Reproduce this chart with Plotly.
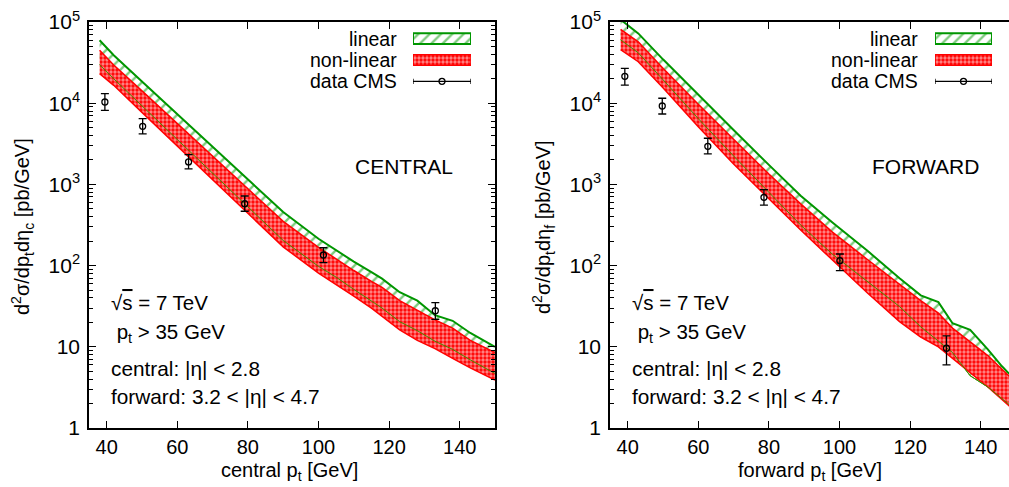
import plotly.graph_objects as go

W, H = 1009, 487
FONT = "Liberation Sans, Arial, sans-serif"
GREEN = "rgb(0,150,0)"
RED = "rgb(255,0,0)"

# ---- CENTRAL panel: theory bands (pb/GeV) ----
pt_c = [38, 42, 50, 60, 70, 80, 90, 100, 105, 110, 115, 118, 123, 128, 133, 138, 143, 150]
lin_hi_c = [59600, 38900, 18500, 7330, 2900, 1150, 457, 214, 153, 112, 83, 69, 47, 37, 24.5, 20.9, 14.8, 10.0]
lin_lo_c = [29800, 20000, 9290, 3570, 1370, 528, 204, 98, 72, 51, 37, 30, 20.4, 15.8, 11.7, 9.3, 6.9, 4.7]
nl_hi_c = [45000, 29500, 14200, 5600, 2200, 880, 350, 168, 120, 87, 64, 54, 37, 28.5, 21.5, 17.0, 12.0, 8.5]
nl_lo_c = [23100, 16600, 7710, 2960, 1135, 436, 170, 81, 59, 42, 30, 24, 16.2, 12.0, 9.5, 7.2, 5.5, 3.9]

# CMS data, central
cms_pt_c = [39.5, 50.2, 63.2, 79.1, 101.4, 133.1]
cms_c = [10350, 5190, 1890, 578, 135, 27.8]
cms_up_c = [2750, 1250, 430, 142, 31, 7.1]
cms_dn_c = [2170, 1010, 340, 111, 26, 6.0]

# ---- FORWARD panel ----
pt_f = [38, 43, 50, 60, 70, 80, 89, 98, 108, 117, 123, 128, 132, 137, 142, 146, 150]
lin_hi_f = [107000, 72400, 34700, 12600, 4680, 1740, 724, 339, 151, 70, 43, 35.5, 19.5, 16.2, 9.3, 5.75, 3.8]
lin_lo_f = [60300, 41700, 19500, 6460, 2240, 794, 316, 138, 63, 31.3, 17.6, 11.7, 8.5, 4.4, 3.2, 2.3, 1.66]
nl_hi_f = [81000, 57000, 27000, 9700, 3600, 1340, 575, 258, 118, 59, 37, 26.0, 17.0, 11.5, 7.8, 5.3, 3.6]
nl_lo_f = [45700, 32400, 15500, 5130, 1780, 661, 275, 117, 45.7, 20.4, 13.2, 10.0, 7.2, 4.9, 3.2, 2.24, 1.58]

cms_pt_f = [39.2, 49.8, 62.7, 78.6, 100.1, 130.3]
cms_f = [21400, 9240, 2940, 693, 115, 9.6]
cms_up_f = [5500, 2260, 760, 168, 24, 4.0]
cms_dn_f = [4700, 1880, 570, 136, 28.5, 3.6]

x_ticks = [40, 60, 80, 100, 120, 140]
y_ticks = [1, 10, 100, 1000, 10000, 100000]
y_ticktext = ["1", "10", "10<sup>2</sup>", "10<sup>3</sup>", "10<sup>4</sup>", "10<sup>5</sup>"]
y_minor = [m * 10 ** k for k in range(5) for m in range(2, 10)]

HATCH = dict(shape="/", fgcolor=GREEN, bgcolor="white", size=8, solidity=0.3)
CHECK = dict(shape=".", fgcolor="white", bgcolor=RED, size=4, solidity=0.55)


def px(x):
    return x / W


def py(y):
    return 1 - y / H


fig = go.Figure()


def add_panel(n, pt, lin_lo, lin_hi, nl_lo, nl_hi, cx, cy, cup, cdn):
    xa = "x" if n == 1 else "x%d" % n
    ya = "y" if n == 1 else "y%d" % n
    kw = dict(xaxis=xa, yaxis=ya, mode="lines", showlegend=False, hoverinfo="skip")
    fig.add_trace(go.Scatter(x=pt, y=lin_lo, line=dict(color=GREEN, width=1), **kw))
    fig.add_trace(go.Scatter(x=pt, y=lin_hi, fill="tonexty", fillpattern=HATCH,
                             line=dict(color=GREEN, width=2), **kw))
    fig.add_trace(go.Scatter(x=pt, y=nl_lo, line=dict(color=RED, width=1.5), **kw))
    fig.add_trace(go.Scatter(x=pt, y=nl_hi, fill="tonexty", fillpattern=CHECK,
                             line=dict(color=RED, width=1.5), **kw))
    fig.add_trace(go.Scatter(x=pt, y=lin_lo, line=dict(color="rgb(70,140,0)", width=1), **kw))
    fig.add_trace(go.Scatter(x=cx, y=cy, xaxis=xa, yaxis=ya, mode="markers", showlegend=False,
                             marker=dict(symbol="circle-open", size=6, color="black", line=dict(width=1.3)),
                             error_y=dict(type="data", array=cup, arrayminus=cdn, color="black",
                                          thickness=1.3, width=4)))


add_panel(1, pt_c, lin_lo_c, lin_hi_c, nl_lo_c, nl_hi_c, cms_pt_c, cms_c, cms_up_c, cms_dn_c)
add_panel(2, pt_f, lin_lo_f, lin_hi_f, nl_lo_f, nl_hi_f, cms_pt_f, cms_f, cms_up_f, cms_dn_f)

# legend swatches drawn on small hidden axes
def add_legend_swatch(n, x0, x1):
    xa, ya = "x%d" % n, "y%d" % n
    fig.update_layout({
        "xaxis%d" % n: dict(domain=[px(x0), px(x1)], range=[0, 1], visible=False, anchor=ya,
                            fixedrange=True, automargin=False),
        "yaxis%d" % n: dict(domain=[py(92), py(28)], range=[0, 3], visible=False, anchor=xa,
                            fixedrange=True, automargin=False),
    })
    kw = dict(xaxis=xa, yaxis=ya, mode="lines", showlegend=False, hoverinfo="skip")
    bx = [0, 1, 1, 0, 0]
    fig.add_trace(go.Scatter(x=bx, y=[2.25, 2.25, 2.75, 2.75, 2.25], fill="toself", fillpattern=HATCH,
                             line=dict(color=GREEN, width=2), **kw))
    fig.add_trace(go.Scatter(x=bx, y=[1.25, 1.25, 1.75, 1.75, 1.25], fill="toself", fillpattern=CHECK,
                             line=dict(color=RED, width=1.5), **kw))
    fig.add_trace(go.Scatter(x=[0, 1, None, 0, 0, None, 1, 1], y=[0.5, 0.5, None, 0.38, 0.62, None, 0.38, 0.62],
                             line=dict(color="black", width=1.3), **kw))
    fig.add_trace(go.Scatter(x=[0.5], y=[0.5], xaxis=xa, yaxis=ya, mode="markers", showlegend=False,
                             marker=dict(symbol="circle-open", size=6, color="black", line=dict(width=1.3))))


add_legend_swatch(3, 413, 471)
add_legend_swatch(4, 935, 992)

axis_style = dict(showline=True, linecolor="black", linewidth=1.5, ticks="inside", ticklen=7,
                  tickwidth=1.3, tickcolor="black", showgrid=False, zeroline=False, automargin=False)
ydom = [py(428), py(22)]
xfont = dict(family=FONT, size=20, color="black")
yfont = dict(family=FONT, size=21, color="black")
ymin = dict(tickvals=y_minor, ticks="inside", ticklen=4, tickcolor="black", tickwidth=1)

fig.update_layout(
    width=W, height=H,
    margin=dict(l=0, r=0, t=0, b=0),
    paper_bgcolor="white", plot_bgcolor="rgba(0,0,0,0)",
    font=dict(family=FONT, size=20, color="black"),
    showlegend=False,
    xaxis=dict(domain=[px(89), px(495)], range=[35, 150], tickvals=x_ticks, mirror="ticks",
               anchor="y", tickfont=xfont, **axis_style),
    yaxis=dict(domain=ydom, type="log", range=[0, 5], tickvals=y_ticks, ticktext=y_ticktext,
               mirror="ticks", anchor="x", tickfont=yfont, ticklabelstandoff=3, minor=ymin,
               **axis_style),
    xaxis2=dict(domain=[px(610), 1.0], range=[35, 148], tickvals=x_ticks, mirror="ticks",
                anchor="y2", tickfont=xfont, **axis_style),
    yaxis2=dict(domain=ydom, type="log", range=[0, 5], tickvals=y_ticks, ticktext=y_ticktext,
                mirror=False, anchor="x2", tickfont=yfont, ticklabelstandoff=3, minor=ymin,
                **axis_style),
)

ann = []


def text(x, y, s, xanchor="left", angle=0, size=20):
    ann.append(dict(x=px(x), y=py(y), xref="paper", yref="paper", text=s, showarrow=False,
                    xanchor=xanchor, yanchor="middle", textangle=angle,
                    font=dict(family=FONT, size=size, color="black")))


sqrt_s = "√<span style='text-decoration:overline'>s</span> = 7 TeV"
for off, name, tag, xlab in [(0, "CENTRAL", "c", "central"), (521, "FORWARD", "f", "forward")]:
    text(399 + off, 39, "linear", "right", size=19.5)
    text(399 + off, 60, "non-linear", "right", size=19.5)
    text(399 + off, 81, "data CMS", "right", size=19.5)
    text(404 + off, 166, name, "center", size=21)
    text(109 + off, 302, sqrt_s, size=20.5)
    text(109 + off, 333, " p<sub>t</sub> &gt; 35 GeV", size=20.5)
    text(109 + off, 368, "central: |η| &lt; 2.8", size=20.8)
    text(109 + off, 396, "forward: 3.2 &lt; |η| &lt; 4.7", size=20.8)
    text(289 + off, 471, xlab + " p<sub>t</sub> [GeV]", "center")
    text(22 + off, 227, "d<sup>2</sup>σ/dp<sub>t</sub>dη<sub>%s</sub> [pb/GeV]" % tag, "center", -90)

fig.update_layout(annotations=ann)

# drop the default 8px page margin so the figure sits at the window corner
fig.write_html("out.html", config={"displayModeBar": False},
               post_script="document.body.style.margin='0px';")
